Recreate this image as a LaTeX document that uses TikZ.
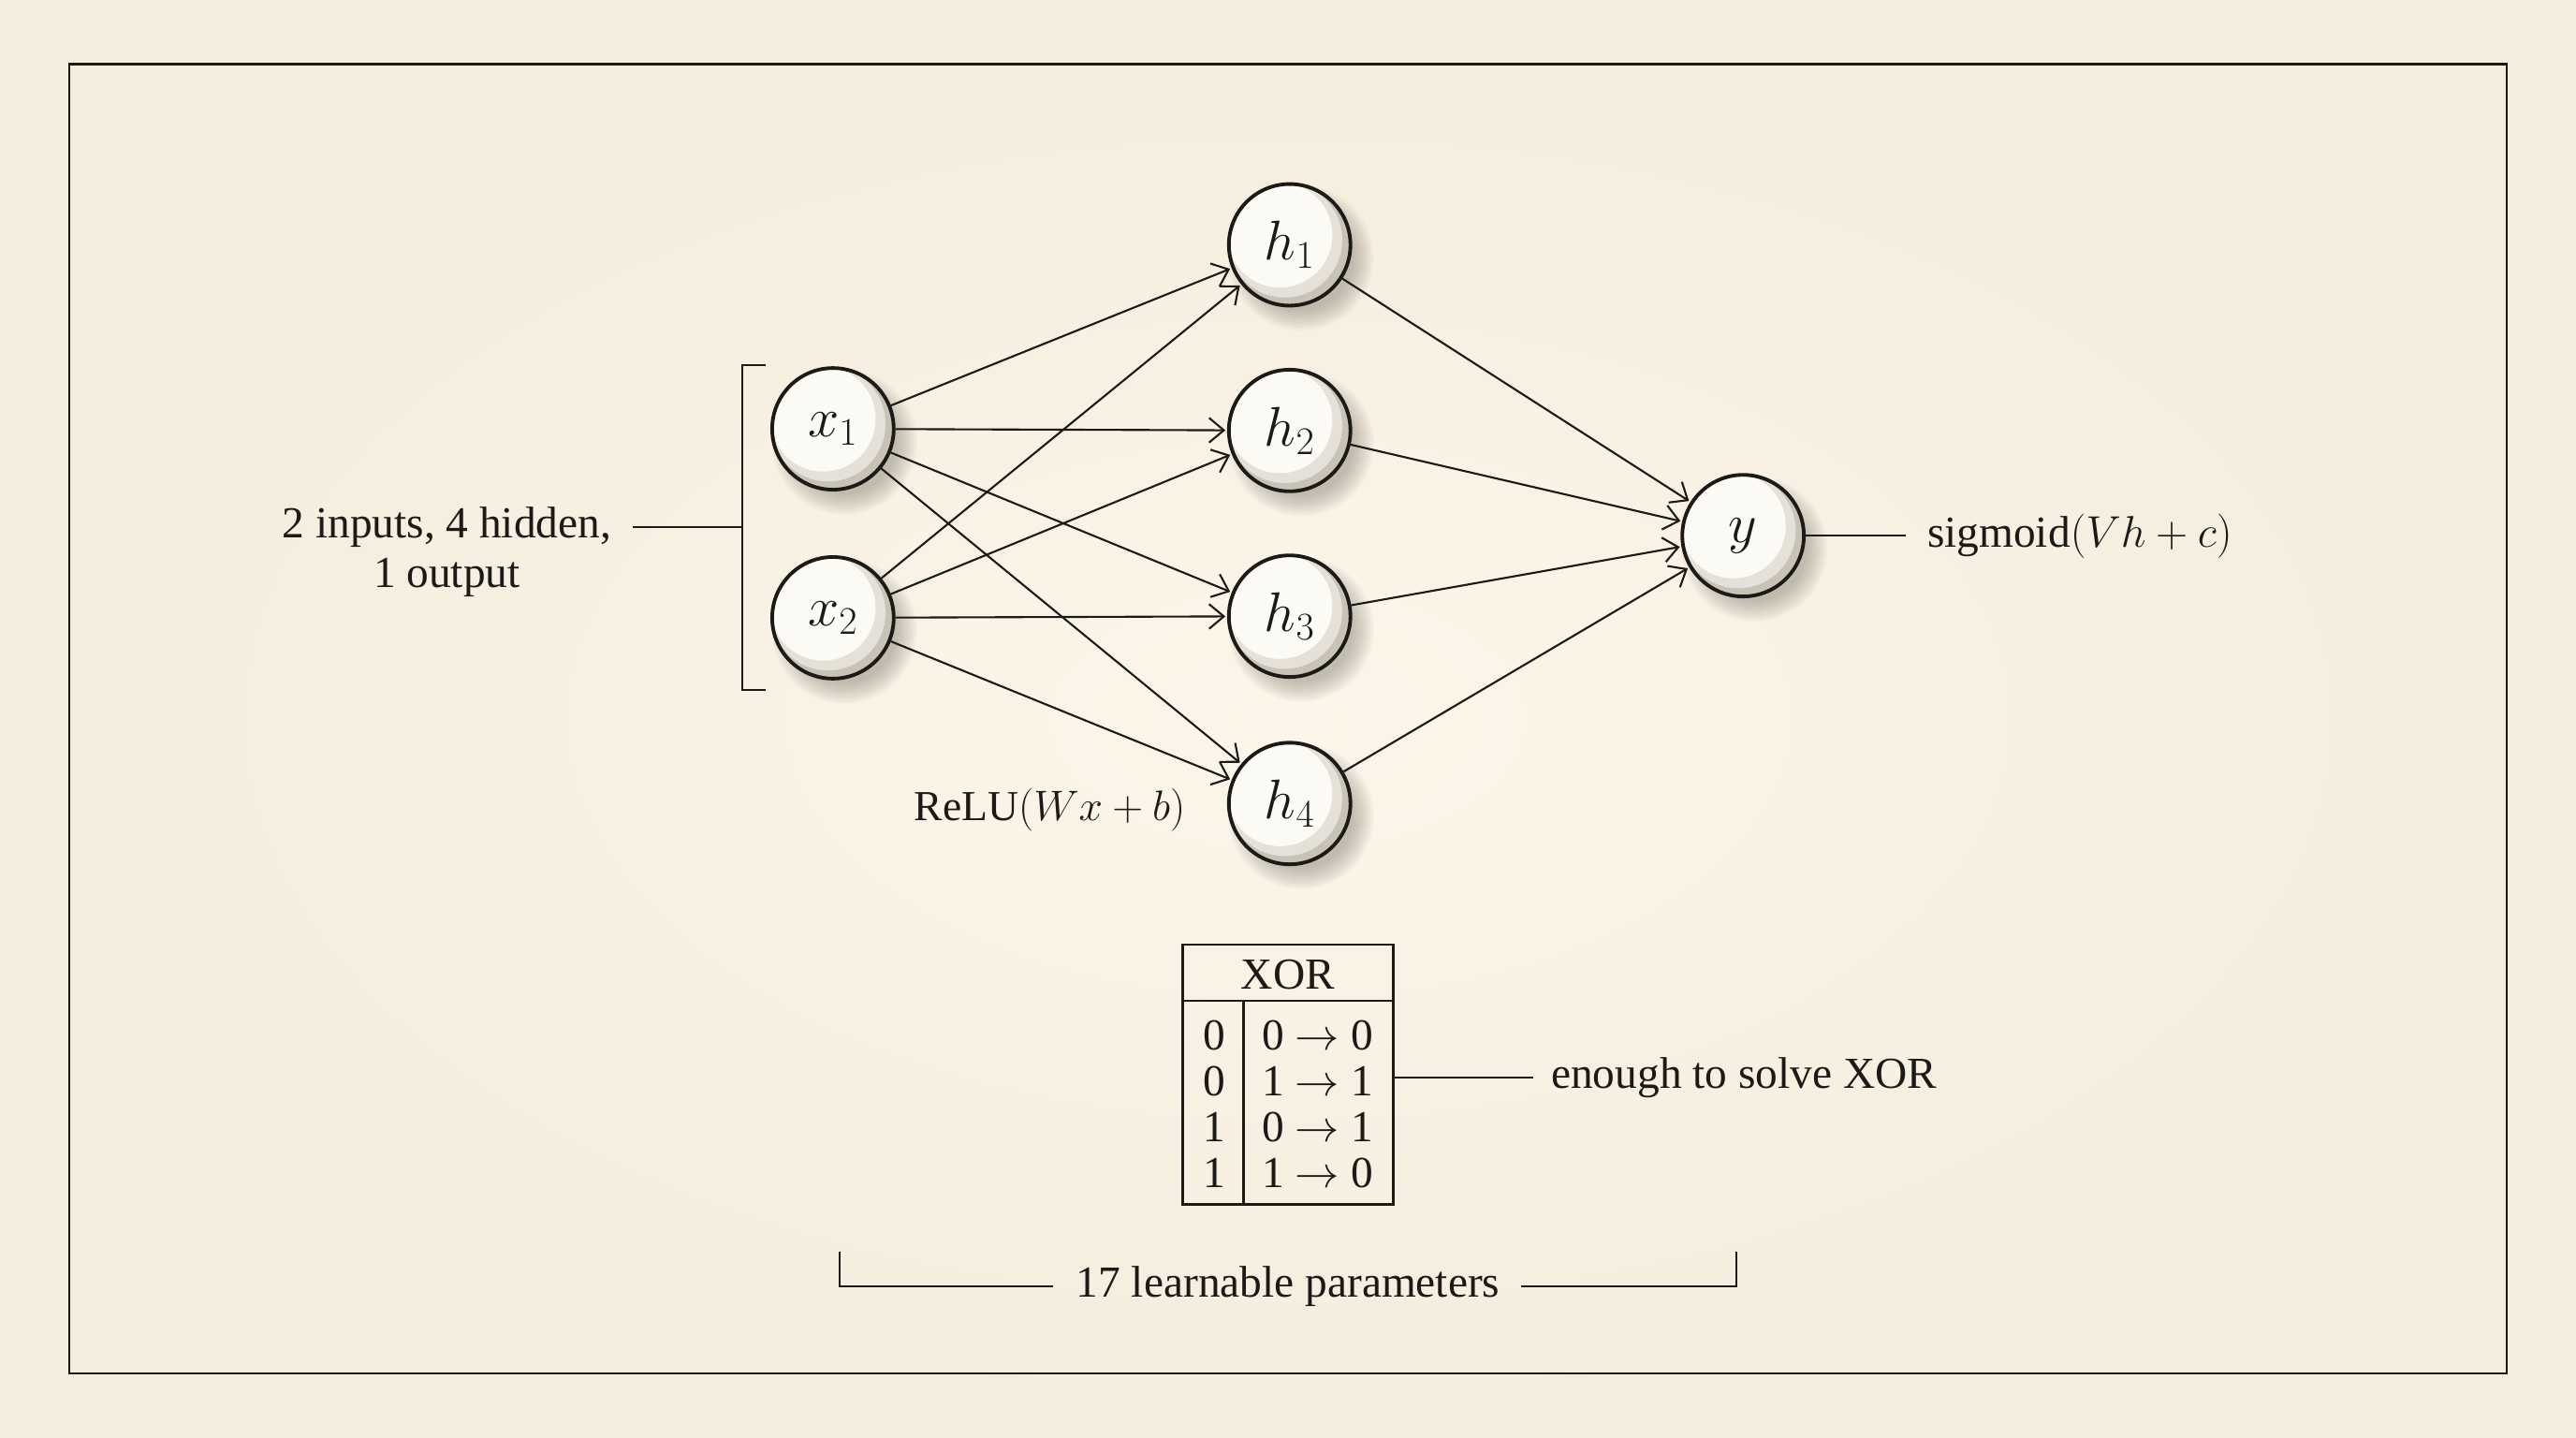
\RequirePackage{fix-cm}
\documentclass[tikz,border=0pt]{standalone}
\usepackage{fontspec}
\setmainfont{Liberation Serif}
\usetikzlibrary{arrows.meta,calc}
\definecolor{paper}{HTML}{FCF6EA}
\definecolor{paperedge}{HTML}{F4ECDC}
\definecolor{ink}{HTML}{1C1A17}
\definecolor{ballfill}{HTML}{FCFAF4}
\definecolor{ballshade}{HTML}{C9C3B7}
\definecolor{shadowc}{HTML}{6E685E}
\newcommand\neuron[3]{%
  \foreach \k in {0,...,8}{\fill[shadowc,opacity=0.05] ($(#2)+(7pt,-8pt)$) circle ({32pt+\k*1.5pt});}
  \begin{scope}
    \clip (#2) circle (37pt);
    \fill[ballshade] (#2) circle (37pt);
    \fill[ballshade!45!ballfill] ($(#2)+(-3pt,3pt)$) circle (35pt);
    \fill[ballfill] ($(#2)+(-6pt,6pt)$) circle (32pt);
  \end{scope}
  \node[neuron] (#1) at (#2) {#3};
}
\tikzset{
  txt/.style={inner sep=0pt, text=ink, font=\fontsize{27}{30}\selectfont},
  neuron/.style={circle, draw=ink, line width=2.2pt, minimum size=74pt, inner sep=0pt, text=ink, font=\fontsize{34}{36}\selectfont},
  edge/.style={draw=ink, line width=1.2pt, -{Straight Barb[length=9pt,width=15pt,line width=1.2pt]}, shorten >=1pt},
  plain/.style={draw=ink, line width=1.2pt},
  frame/.style={draw=ink, line width=1.3pt},
}
\begin{document}
\begin{tikzpicture}[x=1pt,y=-1pt]
\useasboundingbox (0,0) rectangle (1568,875);
\shade[inner color=paper, outer color=paperedge] (0,0) rectangle (1568,875);
\draw[frame] (42,39) rectangle (1526,836);

% neurons
\neuron{x1}{507,261}{$x_1$}
\neuron{x2}{507,376}{$x_2$}
\neuron{h1}{785,149}{$h_1$}
\neuron{h2}{785,262}{$h_2$}
\neuron{h3}{785,375}{$h_3$}
\neuron{h4}{785,489}{$h_4$}
\neuron{y}{1061,326}{$y$}

% connections
\foreach \i in {1,2}{\foreach \j in {1,...,4}{\draw[edge] (x\i) -- (h\j);}}
\foreach \j in {1,...,4}{\draw[edge] (h\j) -- (y);}

% left label with bracket
\node[txt, align=center] (lab) at (272,336) {2 inputs, 4 hidden,\\1 output};
\coordinate (bt) at (466,222);
\coordinate (bb) at (466,420);
\coordinate (bm) at (452,321);
\coordinate (ls) at (385,321);
\draw[plain] (bt) -- (452,222) -- (452,420) -- (bb);
\draw[plain] (ls) -- (bm);

% ReLU label
\node[txt, font=\fontsize{26}{30}\selectfont] (relu) at (639,493) {$\mathrm{ReLU}(Wx+b)$};

% sigmoid label
\node[txt, anchor=west] (sig) at (1173,326) {sigmoid$(Vh+c)$};
\draw[plain] (y) -- ([xshift=-13pt]sig.west);

% XOR table
\node[draw=ink, line width=1.4pt, minimum width=128pt, minimum height=158pt, inner sep=0pt] (tbl) at (784,654) {};
\node[txt] (xorh) at (784,593) {XOR};
\draw[plain, line width=1.4pt] (720,609) -- (848,609);
\draw[plain, line width=1.4pt] (757,609) -- (757,733);
\node[txt] (r1a) at (739,630) {0};
\node[txt] (r2a) at (739,658) {0};
\node[txt] (r3a) at (739,686) {1};
\node[txt] (r4a) at (739,714) {1};
\node[txt] (r1b) at (802,630) {0 $\rightarrow$ 0};
\node[txt] (r2b) at (802,658) {1 $\rightarrow$ 1};
\node[txt] (r3b) at (802,686) {0 $\rightarrow$ 1};
\node[txt] (r4b) at (802,714) {1 $\rightarrow$ 0};
\node[txt, anchor=west] (enough) at (944,656) {enough to solve XOR};
\draw[plain] (tbl.east |- enough.west) -- ([xshift=-11pt]enough.west);

% bottom bracket
\node[txt] (params) at (784,783) {17 learnable parameters};
\coordinate (pl) at (511,762);
\coordinate (pr) at (1057,762);
\draw[plain] ([xshift=-14pt]params.west) -- (511,783) -- (pl);
\draw[plain] ([xshift=13pt]params.east) -- (1057,783) -- (pr);
\end{tikzpicture}
\end{document}
